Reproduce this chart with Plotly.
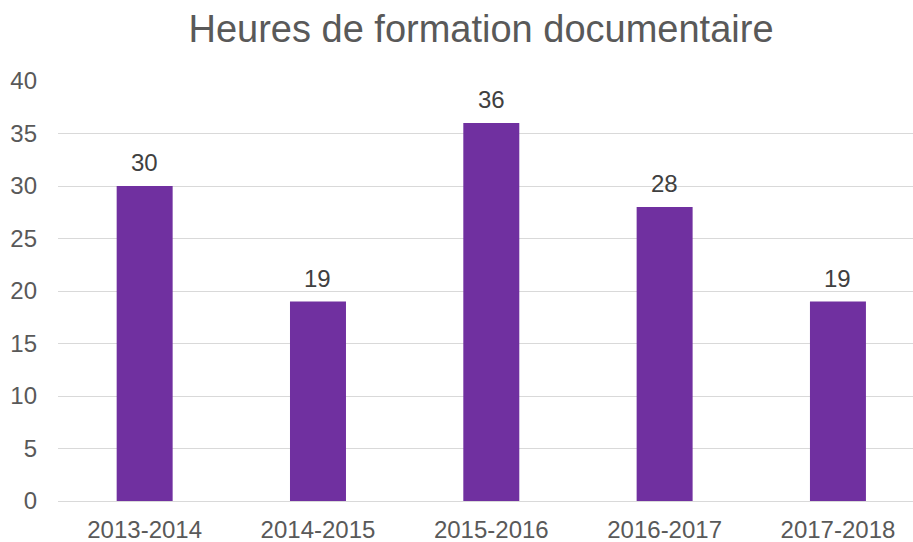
import plotly.graph_objects as go

categories = ["2013-2014", "2014-2015", "2015-2016", "2016-2017", "2017-2018"]
hours = [30, 19, 36, 28, 19]
y_ticks = [0, 5, 10, 15, 20, 25, 30, 35, 40]

W, H = 913, 542
ml, mr, mt, mb = 58, 0, 81, 41

fig = go.Figure()
fig.add_trace(go.Bar(
    x=categories, y=hours,
    marker=dict(color="#7030A0", line=dict(width=0)),
    width=0.323,
    hoverinfo="x+y",
))

for c, v in zip(categories, hours):
    fig.add_annotation(x=c, y=v, text=str(v), showarrow=False,
                       yanchor="bottom", yshift=8,
                       font=dict(family="Liberation Sans, Arial", size=24, color="#404040"))

fig.update_layout(
    width=W, height=H,
    margin=dict(l=ml, r=mr, t=mt, b=mb, pad=0, autoexpand=False),
    paper_bgcolor="white", plot_bgcolor="white",
    showlegend=False,
    title=dict(text="Heures de formation documentaire",
               x=481 / W, xanchor="center", y=1 - 29 / H, yanchor="middle",
               font=dict(family="Liberation Sans, Arial", size=38, color="#595959")),
    xaxis=dict(type="category", range=[-0.5, 4.433], automargin=False,
               showgrid=False, showline=False, zeroline=False,
               ticks="", ticklabelstandoff=12,
               tickfont=dict(family="Liberation Sans, Arial", size=24, color="#595959")),
    yaxis=dict(range=[0, 40], tickvals=y_ticks, automargin=False,
               showgrid=True, gridcolor="#d9d9d9", gridwidth=1.3,
               zeroline=True, zerolinecolor="#d9d9d9", zerolinewidth=1.3,
               showline=False, ticks="", ticklabelstandoff=20,
               tickfont=dict(family="Liberation Sans, Arial", size=24, color="#595959")),
    font=dict(family="Liberation Sans, Arial"),
)

fig.write_html("out.html", config={"displayModeBar": False},
               post_script="document.body.style.margin='0';document.body.style.overflow='hidden';")
